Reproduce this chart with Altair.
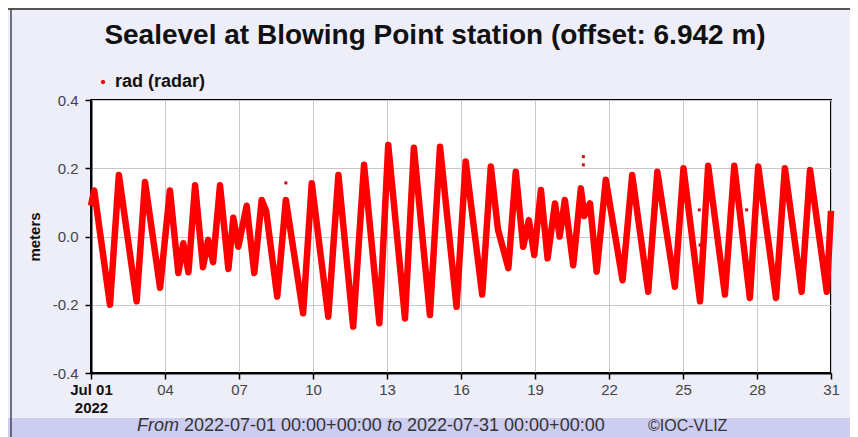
import altair as alt
import pandas as pd

# ---- data (days since 2022-07-01 00:00 UTC, metres) ----
days = [0.0, 0.13, 0.77, 1.13, 1.85, 2.19, 2.8, 3.2, 3.54, 3.74, 3.95, 4.22, 4.54, 4.75, 4.95,
        5.23, 5.57, 5.77, 5.97, 6.31, 6.62, 6.92, 7.1, 7.55, 7.9, 8.6, 8.95, 9.62, 10.03,
        10.63, 11.07, 11.69, 12.05, 12.73, 13.09, 13.74, 14.15, 14.82, 15.19, 15.86, 16.21,
        16.5, 16.92, 17.22, 17.52, 17.75, 17.97, 18.24, 18.51, 18.81, 19.0, 19.21, 19.55,
        19.86, 20.0, 20.23, 20.5, 20.87, 21.55, 21.94, 22.59, 22.96, 23.67, 24.02, 24.69,
        25.02, 25.7, 26.08, 26.71, 27.05, 27.77, 28.13, 28.81, 29.15, 29.83, 30.0]
level = [0.09, 0.135, -0.20, 0.18, -0.19, 0.16, -0.15, 0.135, -0.107, -0.02, -0.105, 0.15,
         -0.09, -0.01, -0.075, 0.15, -0.095, 0.055, -0.03, 0.09, -0.107, 0.107, 0.075, -0.176,
         0.107, -0.225, 0.156, -0.235, 0.18, -0.264, 0.21, -0.254, 0.268, -0.24, 0.26, -0.23,
         0.263, -0.206, 0.22, -0.17, 0.205, 0.02, -0.093, 0.19, -0.03, 0.048, -0.054, 0.136,
         -0.064, 0.097, 0.0, 0.107, -0.084, 0.141, 0.06, 0.097, -0.103, 0.166, -0.128, 0.18,
         -0.162, 0.19, -0.147, 0.2, -0.19, 0.207, -0.17, 0.207, -0.18, 0.205, -0.18, 0.2,
         -0.162, 0.195, -0.162, 0.075]
outlier_days = [7.9, 19.96, 19.96, 24.66, 24.69, 26.58]
outlier_level = [0.157, 0.234, 0.21, 0.078, -0.025, 0.078]

series_name = "rad (radar)"
x_ticks = [0, 3, 6, 9, 12, 15, 18, 21, 24, 27, 30]
y_ticks = [-0.4, -0.3, -0.2, -0.1, 0.0, 0.1, 0.2, 0.3, 0.4]
title_text = "Sealevel at Blowing Point station (offset: 6.942 m)"
footer_from = "From"
footer_start = "2022-07-01 00:00+00:00"
footer_to = "to"
footer_end = "2022-07-31 00:00+00:00"
footer_credit = "\u00a9IOC-VLIZ"

FONT = "Liberation Sans"
W, H = 740, 273

df = pd.DataFrame({"day": days, "level": level, "series": series_name})
dfo = pd.DataFrame({"day": outlier_days, "level": outlier_level})
one = pd.DataFrame({"k": [0]})

xscale = alt.Scale(domain=[0, 30], nice=False, zero=False)
yscale = alt.Scale(domain=[-0.4, 0.4], nice=False, zero=False)

xaxis = alt.Axis(
    values=x_ticks, title=None,
    labelExpr="datum.value == 0 ? ['Jul 01', '2022'] : ((datum.value + 1) < 10 ? '0' + (datum.value + 1) : '' + (datum.value + 1))",
    labelFontWeight={"condition": {"test": "datum.value == 0", "value": "bold"}, "value": "normal"},
    labelColor={"condition": {"test": "datum.value == 0", "value": "#111111"}, "value": "#444444"},
    labelFont=FONT, labelFontSize=15, labelLineHeight=18, labelPadding=3,
    labelFlush=False, labelOverlap=False,
    grid=True, gridColor="#c8c8c8", gridWidth=1,
    domainColor="black", domainWidth=2,
    tickColor="black", tickSize=6, tickWidth=1.5,
)
yaxis = alt.Axis(
    values=y_ticks, title="meters",
    labelExpr="(datum.value < -0.001 ? '-' : '') + format(abs(datum.value), '.1f')",
    labelFont=FONT, labelFontSize=15, labelColor="#444444", labelPadding=7,
    titleFont=FONT, titleFontSize=15, titleFontWeight="bold", titleColor="#111111",
    titlePadding=10,
    grid=True, gridColor="#c8c8c8", gridWidth=1,
    domainColor="black", domainWidth=2,
    tickColor="black", tickSize=6, tickWidth=1.5,
)

footer_band = alt.Chart(one).mark_rect(color="#cdcdf2").encode(
    x=alt.value(-83), x2=alt.value(759), y=alt.value(318), y2=alt.value(340))
top_rule = alt.Chart(one).mark_rule(color="#555555", strokeWidth=2).encode(
    x=alt.value(-83), x2=alt.value(759), y=alt.value(-91))
left_rule = alt.Chart(one).mark_rule(color="#445", strokeWidth=1.5).encode(
    x=alt.value(-80), y=alt.value(-91), y2=alt.value(340))

line = alt.Chart(df).mark_line(strokeWidth=6.5, strokeJoin="round").encode(
    x=alt.X("day:Q", scale=xscale, axis=xaxis),
    y=alt.Y("level:Q", scale=yscale, axis=yaxis),
    color=alt.Color("series:N",
                    scale=alt.Scale(domain=[series_name], range=["#ff0000"]),
                    legend=alt.Legend(orient="none", legendX=3, legendY=-27, title=None,
                                      padding=0, symbolType="circle", symbolSize=12,
                                      symbolFillColor="#ff0000", symbolStrokeColor="#ff0000",
                                      symbolStrokeWidth=1, labelFont=FONT, labelFontSize=18,
                                      labelFontWeight="bold", labelColor="#111111",
                                      labelOffset=3)),
)
outliers = alt.Chart(dfo).mark_point(filled=True, shape="square", size=9, color="#cc1111", opacity=1).encode(
    x=alt.X("day:Q", scale=xscale),
    y=alt.Y("level:Q", scale=yscale),
)

title = alt.Chart(one).mark_text(text=title_text, font=FONT, fontSize=28, fontWeight="bold",
                                 color="#111111", align="center", baseline="alphabetic").encode(
    x=alt.value(344), y=alt.value(-56))

def ftext(txt, xpos, italic=False, size=18):
    return alt.Chart(one).mark_text(text=txt, font=FONT, fontSize=size,
                                    fontStyle="italic" if italic else "normal",
                                    color="#333333", align="left", baseline="alphabetic").encode(
        x=alt.value(xpos), y=alt.value(331))

chart = alt.layer(
    footer_band, top_rule, left_rule, line, outliers, title,
    ftext(footer_from, 46, True), ftext(footer_start, 93), ftext(footer_to, 296, True),
    ftext(footer_end, 316), ftext(footer_credit, 557, size=16),
).properties(
    width=W, height=H,
    padding={"left": 83, "top": 92, "right": 19, "bottom": 64},
    autosize=alt.AutoSizeParams(type="none"),
    background="#eeeef9",
).configure_view(stroke="black", strokeWidth=2, fill="white")

chart.save("out.html", embed_options={"renderer": "svg", "actions": False})
